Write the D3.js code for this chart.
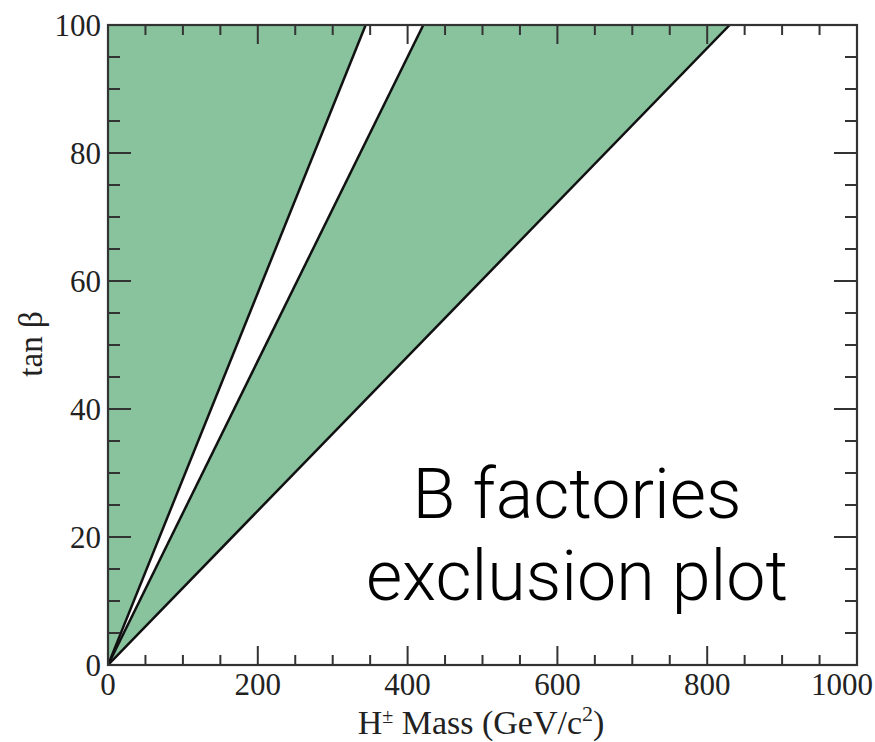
<!DOCTYPE html>
<html>
<head>
<meta charset="utf-8">
<script src="https://cdn.jsdelivr.net/npm/d3@7"></script>
<style>
  html, body { margin: 0; padding: 0; background: #fff; }
  svg { display: block; }
</style>
</head>
<body>
<svg id="chart" width="875" height="742"></svg>
<script>
// Charged Higgs mass (GeV/c^2) vs tan beta: excluded bands bounded by straight contours
const massTicks = [0, 200, 400, 600, 800, 1000];
const tanbTicks = [0, 20, 40, 60, 80, 100];
const massMinor = d3.range(0, 1001, 50);
const tanbMinor = d3.range(0, 101, 5);

// contour lines as [mass, tanβ] points
const steepEdge = [[0, 0], [344, 100]];
const middleEdge = [[0, 0], [421, 100]];
const shallowEdge = [[0, 0], [830, 100]];

// excluded regions built from the contours
const regionLeft = [[0, 100], ...steepEdge];
const regionRight = [...middleEdge, ...shallowEdge.slice().reverse()];

const fillGreen = "#88c39e";
const ink = "#111";

const svg = d3.select("#chart");
const x0 = 108, x1 = 857, y0 = 665, y1 = 25;
const x = d3.scaleLinear().domain([0, 1000]).range([x0, x1]);
const y = d3.scaleLinear().domain([0, 100]).range([y0, y1]);

svg.append("clipPath").attr("id", "plotClip")
  .append("rect").attr("x", x0).attr("y", y1).attr("width", x1 - x0).attr("height", y0 - y1);

const plot = svg.append("g").attr("clip-path", "url(#plotClip)");
const line = d3.line().x(d => x(d[0])).y(d => y(d[1]));

plot.selectAll("path.region")
  .data([regionLeft, regionRight])
  .join("path")
  .attr("class", "region")
  .attr("d", d => line(d) + "Z")
  .attr("fill", fillGreen)
  .attr("stroke", "none");

plot.selectAll("path.edge")
  .data([steepEdge, middleEdge, shallowEdge])
  .join("path")
  .attr("class", "edge")
  .attr("d", line)
  .attr("fill", "none")
  .attr("stroke", ink)
  .attr("stroke-width", 2.5);

// inward ticks on all four sides
const tickStyle = g => g.selectAll("line").attr("stroke", "#333").attr("stroke-width", 2);
const isMajorX = v => massTicks.includes(v);
const isMajorY = v => tanbTicks.includes(v);

const ticks = svg.append("g");
ticks.selectAll("line.bx").data(massMinor).join("line").attr("class", "bx")
  .attr("x1", d => x(d)).attr("x2", d => x(d))
  .attr("y1", y0).attr("y2", d => y0 - (isMajorX(d) ? 19 : 10));
ticks.selectAll("line.tx").data(massMinor).join("line").attr("class", "tx")
  .attr("x1", d => x(d)).attr("x2", d => x(d))
  .attr("y1", y1).attr("y2", d => y1 + (isMajorX(d) ? 19 : 10));
ticks.selectAll("line.ly").data(tanbMinor).join("line").attr("class", "ly")
  .attr("y1", d => y(d)).attr("y2", d => y(d))
  .attr("x1", x0).attr("x2", d => x0 + (isMajorY(d) ? 23 : 12));
ticks.selectAll("line.ry").data(tanbMinor).join("line").attr("class", "ry")
  .attr("y1", d => y(d)).attr("y2", d => y(d))
  .attr("x1", x1).attr("x2", d => x1 - (isMajorY(d) ? 23 : 12));
ticks.call(tickStyle);

// frame
svg.append("rect")
  .attr("x", x0).attr("y", y1).attr("width", x1 - x0).attr("height", y0 - y1)
  .attr("fill", "none").attr("stroke", "#333").attr("stroke-width", 2.2);

// tick labels (the last mass label is kept inside the page edge)
const serif = "'Liberation Serif', 'DejaVu Serif', serif";
const lastMass = massTicks[massTicks.length - 1];
svg.append("g").selectAll("text").data(massTicks).join("text")
  .attr("x", d => d === lastMass ? 873 : x(d)).attr("y", 695)
  .attr("text-anchor", d => d === lastMass ? "end" : "middle")
  .attr("font-family", serif).attr("font-size", 31).attr("fill", "#222")
  .text(d => d);
svg.append("g").selectAll("text").data(tanbTicks).join("text")
  .attr("x", 101).attr("y", d => y(d))
  .attr("dy", "0.35em")
  .attr("text-anchor", "end")
  .attr("font-family", serif).attr("font-size", 31).attr("fill", "#222")
  .text(d => d);

// axis titles
const xTitle = svg.append("text")
  .attr("x", 481).attr("y", 734)
  .attr("text-anchor", "middle")
  .attr("font-family", serif).attr("font-size", 34).attr("fill", "#222");
xTitle.append("tspan").text("H");
xTitle.append("tspan").attr("font-size", 20).attr("dy", -11).text("±");
xTitle.append("tspan").attr("dy", 11).text(" Mass (GeV/c");
xTitle.append("tspan").attr("font-size", 22).attr("dy", -13).text("2");
xTitle.append("tspan").attr("dy", 13).text(")");

svg.append("text")
  .attr("transform", "translate(42,344) rotate(-90)")
  .attr("text-anchor", "middle")
  .attr("font-family", serif).attr("font-size", 33).attr("fill", "#222")
  .text("tan β");

// annotation
const note = svg.append("text")
  .attr("text-anchor", "middle")
  .attr("font-family", "'Helvetica Neue', Roboto, 'Open Sans', sans-serif")
  .attr("font-weight", 300)
  .attr("font-size", 70)
  .attr("fill", "#000");
note.append("tspan").attr("x", 577).attr("y", 518).text("B factories");
note.append("tspan").attr("x", 577).attr("y", 600).text("exclusion plot");
</script>
</body>
</html>
